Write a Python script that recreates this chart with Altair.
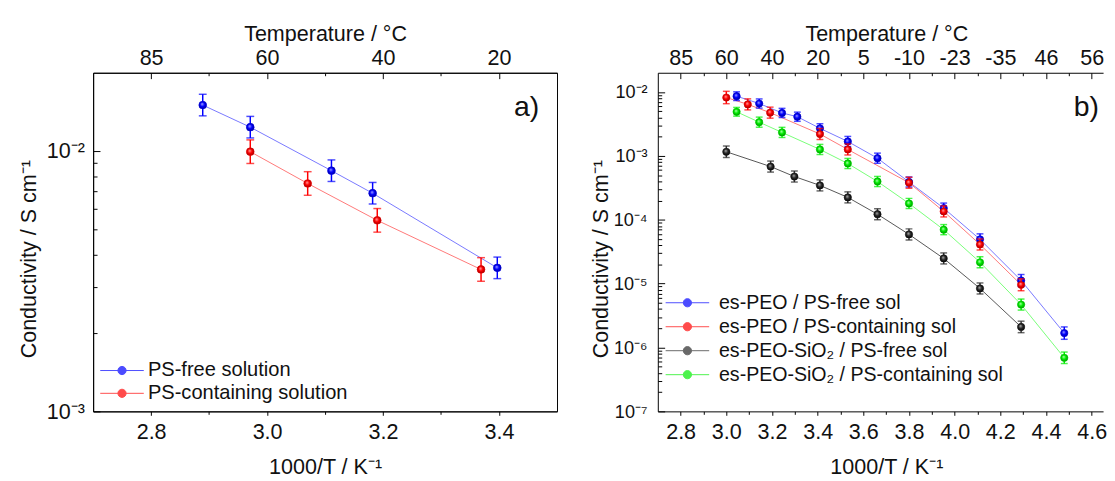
import json
import math
import altair as alt
import pandas as pd

FONT = "Liberation Sans"

# ---------------- panel a) ----------------
a_names = ["PS-free solution", "PS-containing solution"]
a_free_x = [2.889, 2.971, 3.111, 3.182, 3.397]
a_free_y = [1.503e-2, 1.236e-2, 8.41e-3, 6.89e-3, 3.56e-3]
a_free_err = [1.10, 1.10, 1.10, 1.10, 1.10]          # multiplicative error-bar factor
a_cont_x = [2.971, 3.070, 3.190, 3.369]
a_cont_y = [9.95e-3, 7.51e-3, 5.42e-3, 3.51e-3]
a_cont_err = [1.11, 1.11, 1.11, 1.11]

a_x_major = [2.8, 3.0, 3.2, 3.4]
a_x_minor = [2.9, 3.1, 3.3]
a_top_labels = ["85", "60", "40", "20"]
a_y_major = [1e-3, 1e-2]
a_y_labels = ["10⁻³", "10⁻²"]
a_y_minor = [2e-3, 3e-3, 4e-3, 5e-3, 6e-3, 7e-3, 8e-3, 9e-3]

# ---------------- panel b) ----------------
b_names = ["es-PEO / PS-free sol", "es-PEO / PS-containing sol",
           "es-PEO-SiO₂ / PS-free sol", "es-PEO-SiO₂ / PS-containing sol"]
b_peo_free_x = [3.045, 3.144, 3.244, 3.311, 3.410, 3.532, 3.662, 3.800, 3.952, 4.111, 4.291, 4.480]
b_peo_free_y = [8.6e-3, 6.6e-3, 4.7e-3, 4.1e-3, 2.7e-3, 1.68e-3, 9.2e-4, 3.9e-4, 1.52e-4, 4.93e-5, 1.12e-5, 1.68e-6]
b_peo_free_err = [1.17, 1.18, 1.18, 1.18, 1.18, 1.2, 1.2, 1.2, 1.2, 1.22, 1.24, 1.25]
b_peo_cont_x = [3.000, 3.094, 3.192, 3.410, 3.532, 3.800, 3.952, 4.111, 4.291]
b_peo_cont_y = [8.2e-3, 6.4e-3, 4.75e-3, 2.2e-3, 1.26e-3, 3.8e-4, 1.35e-4, 4.1e-5, 9.6e-6]
b_peo_cont_err = [1.25, 1.22, 1.22, 1.22, 1.22, 1.22, 1.22, 1.22, 1.24]
b_sio_free_x = [3.000, 3.194, 3.298, 3.410, 3.532, 3.662, 3.800, 3.952, 4.111, 4.291]
b_sio_free_y = [1.16e-3, 6.8e-4, 4.75e-4, 3.45e-4, 2.24e-4, 1.22e-4, 5.9e-5, 2.48e-5, 8.4e-6, 2.1e-6]
b_sio_free_err = [1.23, 1.22, 1.22, 1.22, 1.22, 1.22, 1.22, 1.22, 1.22, 1.23]
b_sio_cont_x = [3.045, 3.144, 3.244, 3.410, 3.532, 3.662, 3.800, 3.952, 4.111, 4.291, 4.480]
b_sio_cont_y = [4.9e-3, 3.37e-3, 2.33e-3, 1.26e-3, 7.6e-4, 3.97e-4, 1.8e-4, 7.0e-5, 2.16e-5, 4.7e-6, 6.9e-7]
b_sio_cont_err = [1.17, 1.2, 1.2, 1.2, 1.2, 1.2, 1.2, 1.2, 1.22, 1.22, 1.23]

b_x_major = [2.8, 3.0, 3.2, 3.4, 3.6, 3.8, 4.0, 4.2, 4.4, 4.6]
b_x_minor = [2.9, 3.1, 3.3, 3.5, 3.7, 3.9, 4.1, 4.3, 4.5]
b_top_labels = ["85", "60", "40", "20", "5", "-10", "-23", "-35", "46", "56"]
b_y_major = [1e-7, 1e-6, 1e-5, 1e-4, 1e-3, 1e-2]
b_y_labels = ["10⁻⁷", "10⁻⁶", "10⁻⁵", "10⁻⁴", "10⁻³", "10⁻²"]
b_y_minor = [2e-7, 3e-7, 4e-7, 5e-7, 6e-7, 7e-7, 8e-7, 9e-7,
             2e-6, 3e-6, 4e-6, 5e-6, 6e-6, 7e-6, 8e-6, 9e-6,
             2e-5, 3e-5, 4e-5, 5e-5, 6e-5, 7e-5, 8e-5, 9e-5,
             2e-4, 3e-4, 4e-4, 5e-4, 6e-4, 7e-4, 8e-4, 9e-4,
             2e-3, 3e-3, 4e-3, 5e-3, 6e-3, 7e-3, 8e-3, 9e-3]

# colours: (main, light highlight, dark edge, line)
STY = {
    "blue": ("#0000ff", "#b0b0ff", "#00009a", "#7777ff"),
    "red": ("#ff0000", "#ffb0b0", "#a00000", "#ff7777"),
    "black": ("#2a2a2a", "#b8b8b8", "#000000", "#555555"),
    "green": ("#00ee00", "#c0ffc0", "#009000", "#77ff77"),
}

# legend glyph: a short line with a marker in its middle (unit box scaled by sqrt(size)/2)
LEG_PATH = "M-1,0L7.9,0M4.29,0A0.84,0.84,0,1,1,2.61,0A0.84,0.84,0,1,1,4.29,0Z"


def make_df(names, xs, ys, errs):
    rows = []
    for n, x, y, e in zip(names, xs, ys, errs):
        for xi, yi, ei in zip(x, y, e):
            rows.append({"s": n, "x": xi, "y": yi, "lo": yi / ei, "hi": yi * ei})
    return pd.DataFrame(rows)


def panel(df, names, styles, xdom, ydom, xmaj, xmin, top_labels, ymaj, ylabels, ymin,
          width, height, size, cap, leg_x, leg_y, leg_pad, leg_font, leg_off, tag, tag_x, tag_y,
          ytitle_x, ylab_pad, ylab_size, title_cx, view):
    xs = alt.Scale(domain=xdom, nice=False, zero=False)
    ys = alt.Scale(type="log", domain=ydom, nice=False)
    base = alt.Chart(df)

    def X(axis=None):
        return alt.X("x:Q", scale=xs, axis=axis)

    def Y(axis=None):
        return alt.Y("y:Q", scale=ys, axis=axis)

    mains = [STY[s][0] for s in styles]

    layers = []
    for n, s in zip(names, styles):
        sub = base.transform_filter(alt.datum.s == n)
        layers.append(sub.mark_line(strokeWidth=1, color=STY[s][3]).encode(X(), Y()))

    leg = alt.Legend(title=None, orient="none", legendX=leg_x, legendY=leg_y,
                     symbolType=LEG_PATH, symbolSize=100, symbolStrokeWidth=1,
                     labelFont=FONT, labelFontSize=leg_font, labelLimit=600, labelOffset=leg_off,
                     rowPadding=leg_pad, labelColor="#111")
    layers.append(base.mark_point(filled=True, size=size, strokeWidth=1).encode(
        X(), Y(),
        fill=alt.Fill("s:N", scale=alt.Scale(domain=names, range=mains), legend=leg),
        stroke=alt.Stroke("s:N", scale=alt.Scale(domain=names, range=mains), legend=leg)))

    for n, s in zip(names, styles):
        main, light, dark, _ = STY[s]
        sub = base.transform_filter(alt.datum.s == n)
        layers.append(sub.mark_errorbar(color=main, thickness=1.5,
                                        ticks={"size": cap, "thickness": 1.5}).encode(
            x=X(), y=alt.Y("lo:Q", scale=ys, axis=None), y2="hi:Q"))
        grad = alt.RadialGradient(
            gradient="radial",
            stops=[alt.GradientStop(color=light, offset=0),
                   alt.GradientStop(color=main, offset=0.5),
                   alt.GradientStop(color=dark, offset=1)],
            x1=0.4, y1=0.35, r1=0.0, x2=0.5, y2=0.5, r2=0.55)
        layers.append(sub.mark_circle(size=size, fill=grad, opacity=1, strokeWidth=0).encode(X(), Y()))

    layers.append(alt.Chart(alt.Data(values=[{"t": tag}])).mark_text(
        font=FONT, fontSize=29, align="center", baseline="middle", color="#111").encode(
        text="t:N", x=alt.value(tag_x), y=alt.value(tag_y)))

    inv = base.mark_point(opacity=0)
    top_expr = json.dumps(top_labels) + f"[round((datum.value - {xmaj[0]}) / 0.2)]"
    e0 = -round(math.log10(ymaj[0]))
    y_expr = json.dumps(ylabels, ensure_ascii=False) + f"[round(log(datum.value) / LN10) + {e0}]"

    # main axes: bottom labels/title, left labels/title
    layers.append(inv.encode(
        X(alt.Axis(orient="bottom", values=xmaj, format=".1f", title="1000/T / K⁻¹",
                   tickSize=4, labelPadding=7, titleX=title_cx, titleY=63,
                   titleBaseline="alphabetic", labelFlush=False, labelOverlap=False)),
        Y(alt.Axis(orient="left", values=ymaj, labelExpr=y_expr, ticks=False, tickSize=0,
                   labelPadding=ylab_pad, labelFontSize=ylab_size, title="Conductivity / S cm⁻¹",
                   titleX=ytitle_x, titleY=190, titleBaseline="middle", titleAngle=270,
                   labelFlush=False, labelOverlap=False))))
    # top temperature labels, inward left major ticks
    layers.append(inv.encode(
        X(alt.Axis(orient="top", values=xmaj, labelExpr=top_expr, ticks=False, tickSize=0,
                   labelPadding=3, title="Temperature / °C", titleX=title_cx, titleY=-33,
                   titleBaseline="alphabetic", labelFlush=False, labelOverlap=False)),
        Y(alt.Axis(orient="left", values=ymaj, offset=-7, tickSize=7, labels=False,
                   domain=False, title=None))))
    # top inward major ticks, left inward minor ticks
    layers.append(inv.encode(
        X(alt.Axis(orient="top", values=xmaj, offset=-6, tickSize=6, labels=False,
                   domain=False, title=None)),
        Y(alt.Axis(orient="left", values=ymin, offset=-4, tickSize=4, labels=False,
                   domain=False, title=None))))
    # top inward minor ticks
    layers.append(inv.encode(
        X(alt.Axis(orient="top", values=xmin, offset=-3, tickSize=3, labels=False,
                   domain=False, title=None)),
        Y()))
    # bottom outward minor ticks
    layers.append(inv.encode(
        X(alt.Axis(orient="bottom", values=xmin, tickSize=3, labels=False,
                   domain=False, title=None)),
        Y()))

    return alt.layer(*layers).resolve_axis(x="independent", y="independent").properties(
        width=width, height=height, view=view)


df_a = make_df(a_names, [a_free_x, a_cont_x], [a_free_y, a_cont_y], [a_free_err, a_cont_err])
df_b = make_df(b_names, [b_peo_free_x, b_peo_cont_x, b_sio_free_x, b_sio_cont_x],
               [b_peo_free_y, b_peo_cont_y, b_sio_free_y, b_sio_cont_y],
               [b_peo_free_err, b_peo_cont_err, b_sio_free_err, b_sio_cont_err])

pa = panel(df_a, a_names, ["blue", "red"], [2.7, 3.5], [1e-3, 2e-2],
           a_x_major, a_x_minor, a_top_labels, a_y_major, a_y_labels, a_y_minor,
           474, 346, 62, 8, 2, 294, 2.3, 20.5, 33.5, "a)", 443, 35, -66, 9, 22, 237,
           alt.ViewBackground(stroke="black", strokeWidth=1))
pb = panel(df_b, b_names, ["blue", "red", "black", "green"], [2.7, 4.65], [1e-7, 2e-2],
           b_x_major, b_x_minor, b_top_labels, b_y_major, b_y_labels, b_y_minor,
           455, 346, 55, 7, 3, 225, 4.5, 20, 39.5, "b)", 438, 35, -58, 11, 18.5, 233.5,
           alt.ViewBackground(stroke="transparent", strokeWidth=0))

chart = alt.hconcat(pa, pb, spacing=103, bounds="flush").resolve_scale(
    x="independent", y="independent", fill="independent",
    stroke="independent").resolve_legend(
    fill="independent", stroke="independent").configure(
    font=FONT, padding={"left": 9, "top": 9, "right": 0, "bottom": 0}).configure_axis(
    grid=False, domainColor="black", domainWidth=1, tickColor="black", tickWidth=1,
    labelColor="#111", titleColor="#111", labelFont=FONT, titleFont=FONT,
    labelFontSize=22, titleFontSize=22, titleFontWeight="normal").configure_view(
    stroke="black")

chart.save("out.html", embed_options={"renderer": "svg", "actions": False})
